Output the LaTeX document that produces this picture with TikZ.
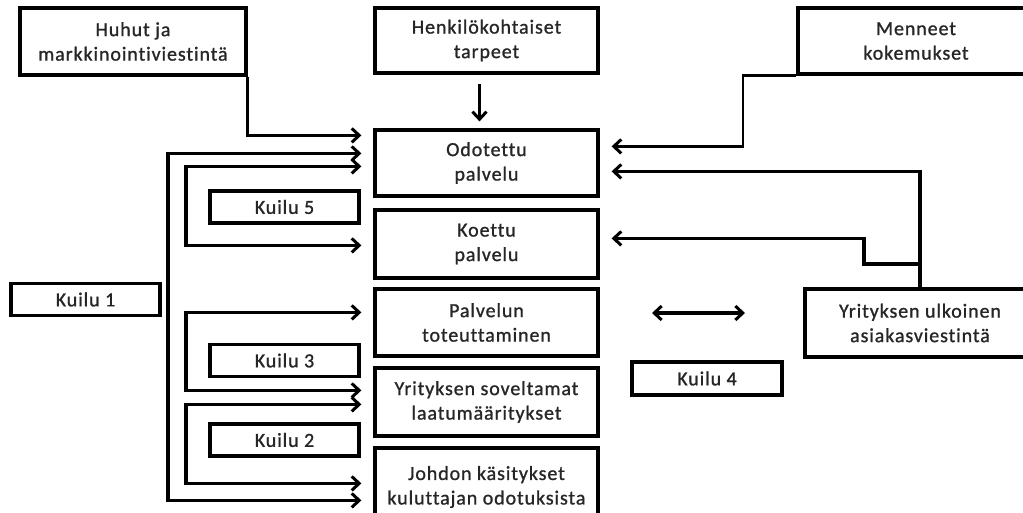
\documentclass[tikz,border=0pt]{standalone}
\usepackage{fontspec}
\setmainfont{Carlito}[LetterSpace=4.5,FakeBold=1,Ligatures={NoCommon}]
\usetikzlibrary{arrows.meta,calc}

\begin{document}
\begin{tikzpicture}[x=1pt,y=-1pt,
  box/.style={draw, line width=3.2pt, fill=white, align=center, inner sep=0pt,
    font=\fontsize{20}{24.5}\selectfont, text=black!85},
  bigbox/.style={box, minimum width=223pt, minimum height=67pt},
  gapbox/.style={box, minimum width=149pt, minimum height=32pt},
  barb/.tip={Straight Barb[length=7.5pt,width=14pt,line width=3pt]},
  tip/.style={-barb},
  conn/.style={line width=3.4pt, tip, shorten >=12pt},
  both/.style={line width=3.4pt, barb-barb, shorten >=12pt, shorten <=12pt}]

\useasboundingbox (0,0) rectangle (1023,513);
\clip (0,0) rectangle (1023,513);

% source boxes along the top
\node[box, minimum width=226pt, minimum height=67pt] (huhut) at (133,41.5) {Huhut ja\\markkinointiviestintä};
\node[bigbox, minimum height=65pt] (henk) at (486.5,40.5) {Henkilökohtaiset\\tarpeet};
\node[box, minimum width=236pt, minimum height=66pt] (menneet) at (916,41) {Menneet\\kokemukset};

% central column
\node[bigbox, minimum height=66pt] (odot) at (486.5,163) {Odotettu\\palvelu};
\node[bigbox, minimum height=68pt] (koettu) at (486.5,244) {Koettu\\palvelu};
\node[bigbox] (palv) at (486.5,322.5) {Palvelun\\toteuttaminen};
\node[bigbox, minimum height=68pt] (yrit) at (486.5,402) {Yrityksen soveltamat\\laatumääritykset};
\node[bigbox, minimum height=78pt] (johdon) at (486.5,487) {Johdon käsitykset\\kuluttajan odotuksista};

% external communication
\node[box, minimum width=230pt, minimum height=68pt] (ulk) at (920,323) {Yrityksen ulkoinen\\asiakasviestintä};

% gap labels
\node[gapbox] (k1) at (85.5,299.5) {Kuilu 1};
\node[gapbox] (k5) at (284.5,207) {Kuilu 5};
\node[gapbox] (k3) at (284.5,360.5) {Kuilu 3};
\node[gapbox] (k2) at (284.5,440) {Kuilu 2};
\node[gapbox, minimum width=150pt, minimum height=33pt] (k4) at (707,378.5) {Kuilu 4};

% bend points of the connectors
\coordinate (k1x) at (168,300);
\coordinate (k5x) at (186,200);
\coordinate (k3x) at (186,350);
\coordinate (k2x) at (186,440);
\coordinate (mx) at (743,110);
\coordinate (ujoint) at (920,264);
\coordinate (ux) at (864,250);
\coordinate (k4a) at (652,313);
\coordinate (k4b) at (745,313);

% inputs to the expected service
\draw[conn] (huhut.south east) |- ([yshift=-7pt]odot.north west);
\draw[line width=2.6pt, tip] ([xshift=-7pt,yshift=-9pt]henk.south) -- ([xshift=-7pt,yshift=7pt]odot.north);
\draw[line width=2.4pt, tip, shorten >=12pt] (menneet.south west) -| (mx) |- ([yshift=-18pt]odot.north east);
\draw[conn] (ulk.north) |- ([yshift=-43pt]odot.north east);
\draw[conn] (ujoint) -| (ux) |- ([yshift=-30pt]koettu.north east);

% gap brackets on the left
\draw[both] ([yshift=-25pt]odot.north west) -| (k1x) |- ([yshift=-54pt]johdon.north west);
\draw[both] ([yshift=-38pt]odot.north west) -| (k5x) |- ([yshift=-37pt]koettu.north west);
\draw[both] ([yshift=-25pt]palv.north west) -| (k3x) |- ([yshift=-24pt]yrit.north west);
\draw[both] ([yshift=-38pt]yrit.north west) -| (k2x) |- ([yshift=-37pt]johdon.north west);

% gap 4
\draw[line width=3.2pt, barb-barb] (k4a) -- (k4b);

\end{tikzpicture}
\end{document}
